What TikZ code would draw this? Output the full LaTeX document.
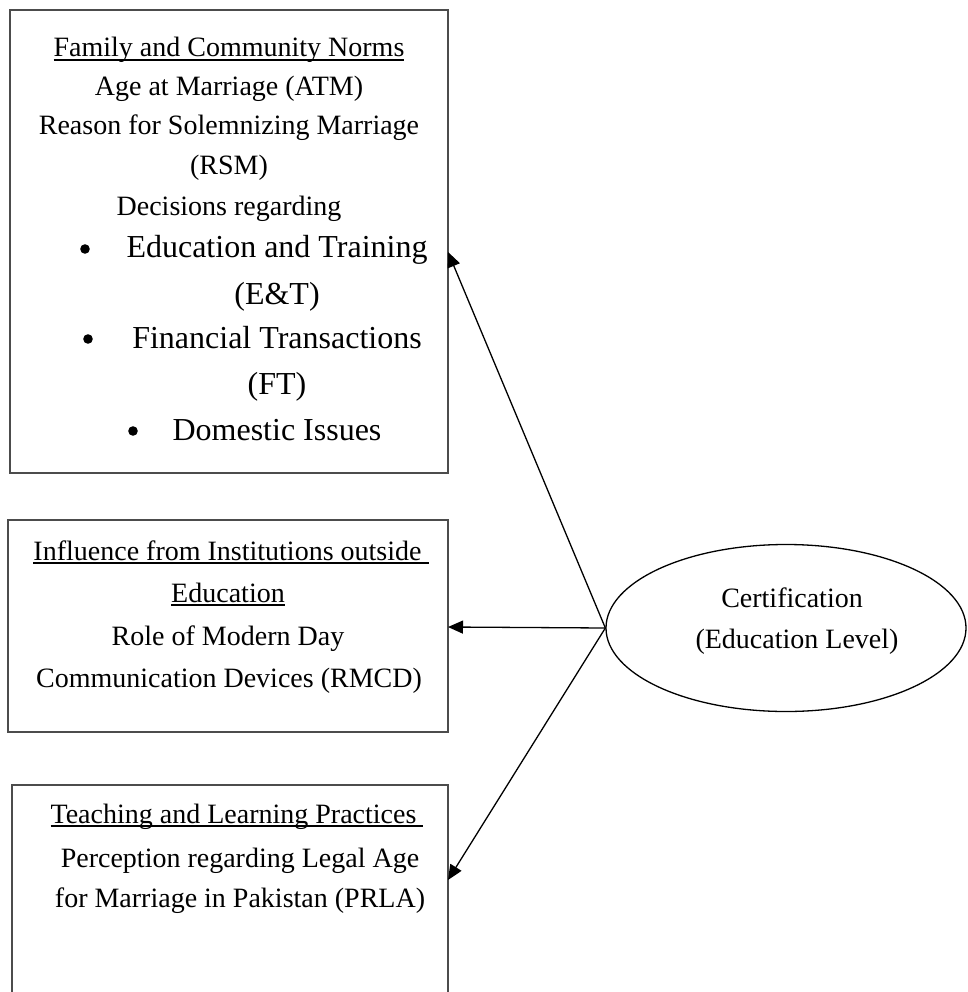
\documentclass[tikz,border=0pt]{standalone}
\usepackage{fontspec}
\setmainfont{Liberation Serif}
\usetikzlibrary{arrows.meta,shapes.geometric}
\newcommand{\myul}[1]{\setbox0\hbox{#1}\rlap{\rule[-4pt]{\wd0}{1.6pt}}\box0}
\begin{document}
\begin{tikzpicture}[x=1pt,y=-1pt,
  box/.style={draw=black!70, line width=1.8pt, inner sep=0, rectangle},
  txt/.style={inner sep=0, anchor=base, font=\fontsize{28}{34}\selectfont},
  bigtxt/.style={inner sep=0, anchor=base, font=\fontsize{32}{38}\selectfont},
  arr/.style={-{Triangle[length=15pt,width=13pt]}, line width=1.3pt, black}]
\useasboundingbox (0,0) rectangle (967,992);
% boxes
\node[box, minimum width=438pt, minimum height=463pt] (b1) at (229,241.5) {};
\node[box, minimum width=440pt, minimum height=212pt] (b2) at (228,626) {};
\node[box, minimum width=436pt, minimum height=225pt] (b3) at (230,897.5) {};
\node[draw, ellipse, line width=1.3pt, inner sep=0, minimum width=360pt, minimum height=167pt] (e) at (786,628) {};
% box 1 text
\node[txt] (h1) at (229,57) {\myul{Family and Community Norms}};
\node[txt] (a1) at (229,96) {Age at Marriage (ATM)};
\node[txt] (a2) at (229,135) {Reason for Solemnizing Marriage};
\node[txt] (a3) at (229,175) {(RSM)};
\node[txt] (a4) at (229,215) {Decisions regarding};
\node[bigtxt] (i1) at (277,258) {Education and Training};
\node[bigtxt] (i1b) at (277,304) {(E\&T)};
\node[bigtxt] (i2) at (277,348) {Financial Transactions};
\node[bigtxt] (i2b) at (277,394) {(FT)};
\node[bigtxt] (i3) at (277,440) {Domestic Issues};
\fill (85,249) circle (4.8);
\fill (88,339) circle (4.8);
\fill (133,431) circle (4.8);
% box 2 text
\node[txt] (h2) at (231,560) {\myul{Influence from Institutions outside\ }};
\node[txt] (h2b) at (228,602) {\myul{Education}};
\node[txt] (c1) at (228,645) {Role of Modern Day};
\node[txt] (c2) at (229,687) {Communication Devices (RMCD)};
% box 3 text
\node[txt] (h3) at (237,823) {\myul{Teaching and Learning Practices\ }};
\node[txt] (p1) at (240,867) {Perception regarding Legal Age};
\node[txt] (p2) at (240,907) {for Marriage in Pakistan (PRLA)};
% ellipse text
\node[txt] (e1) at (792,607) {Certification};
\node[txt] (e2) at (797,648) {(Education Level)};
% arrows
\coordinate (t1) at (448,252);
\coordinate (t2) at (448,627);
\coordinate (t3) at (448,880);
\draw[arr] (e.west) -- (t1);
\draw[arr] (e.west) -- (t2);
\draw[arr] (e.west) -- (t3);
\end{tikzpicture}
\end{document}
